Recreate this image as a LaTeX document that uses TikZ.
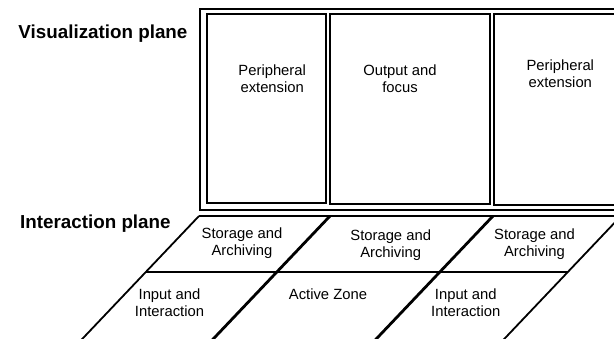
\documentclass[tikz,border=0pt]{standalone}
\usepackage{fontspec}
\setmainfont{Liberation Sans}
\begin{document}
\begin{tikzpicture}[x=1pt,y=-1pt,
  framebox/.style={line width=2pt},
  thinline/.style={line width=1.8pt},
  heavyline/.style={line width=2.8pt},
  lbl/.style={font=\fontsize{14.8}{16.8}\selectfont, align=center, inner sep=0pt, anchor=north},
  plane/.style={font=\fontsize{18.8}{22}\selectfont\bfseries, inner sep=0pt, anchor=base west}]
\useasboundingbox (0,0) rectangle (614,338);
\begin{scope}
\clip (0,0) rectangle (614,338);
% visualization plane
\draw[framebox] (200,8.5) rectangle (640,210);
\draw[framebox] (206.5,13.5) rectangle (326,203);
\draw[framebox] (330,14) rectangle (490,203.5);
\draw[framebox] (494,14) rectangle (640,205);
% interaction plane
\coordinate (t1) at (199,216);
\coordinate (t2) at (330,216);
\coordinate (t3) at (493,216);
\coordinate (t4) at (621,216);
\coordinate (tr) at (640,216);
\coordinate (b1) at (76.5,345);
\coordinate (b2) at (207.5,345);
\coordinate (b3) at (370.5,345);
\coordinate (b4) at (498.5,345);
\coordinate (m1) at (146,271.7);
\coordinate (m4) at (568,271.7);
\draw[thinline] (t1) -- (tr);
\draw[heavyline] (t2) -- (t3);
\draw[thinline] (m1) -- (m4);
\draw[thinline] (t1) -- (b1);
\draw[heavyline] (t2) -- (b2);
\draw[heavyline] (t3) -- (b3);
\draw[thinline] (t4) -- (b4);
\end{scope}
% labels
\node[plane] (vis) at (18.3,38.3) {Visualization plane};
\node[plane] (int) at (20,228.3) {Interaction plane};
\node[lbl] (pe1) at (272.2,65) {Peripheral\\extension};
\node[lbl] (of) at (400,65) {Output and\\focus};
\node[lbl] (pe2) at (560.3,60) {Peripheral\\extension};
\node[lbl] (sa1) at (242,227.7) {Storage and\\Archiving};
\node[lbl] (sa2) at (390.7,230) {Storage and\\Archiving};
\node[lbl] (sa3) at (534.5,228.3) {Storage and\\Archiving};
\node[lbl] (ii1) at (169.5,288.3) {Input and\\Interaction};
\node[lbl] (az) at (328,288.3) {Active Zone};
\node[lbl] (ii2) at (465.8,288.3) {Input and\\Interaction};
\end{tikzpicture}
\end{document}
